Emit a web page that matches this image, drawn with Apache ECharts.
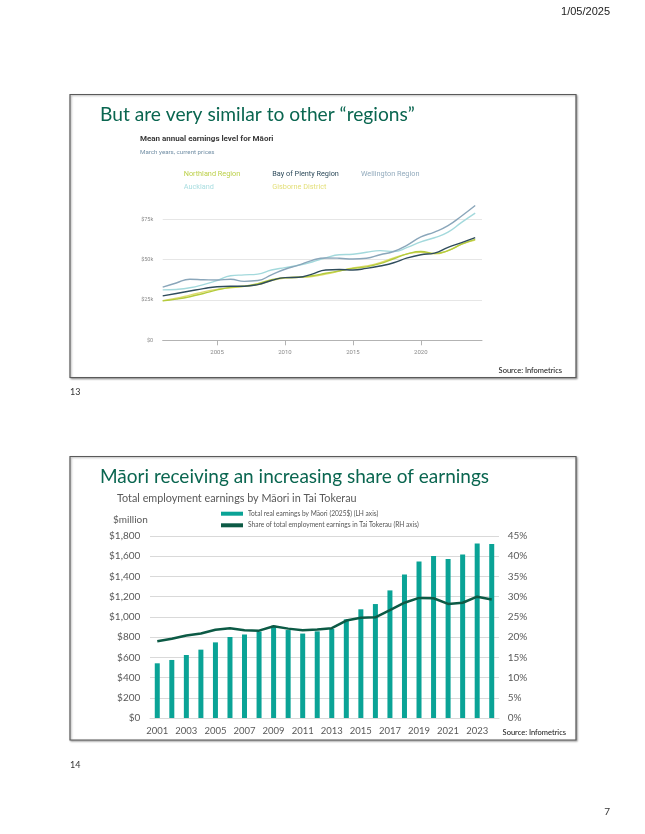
<!DOCTYPE html>
<html><head><meta charset="utf-8">
<script src="https://cdn.jsdelivr.net/npm/echarts@6/dist/echarts.min.js"></script>
<style>html,body{margin:0;padding:0;background:#fff}#c{width:645px;height:834px}</style>
</head><body><div id="c"></div>
<script>
// ---------- Slide 13 data: mean annual earnings ($k) ----------
const years1 = [2001,2002,2003,2004,2005,2006,2007,2008,2009,2010,2011,2012,2013,2014,2015,2016,2017,2018,2019,2020,2021,2022,2023,2024];
const wellington  = [32.9,35.5,37.8,37.5,37.3,37.8,36.5,37.0,40.5,44.0,46.5,49.5,51.0,50.8,50.3,50.8,53.0,55.0,59.0,64.0,67.0,71.0,77.0,83.5];
const auckland    = [31.2,31.5,32.5,34.5,37.0,40.0,40.5,41.0,43.5,45.0,46.5,48.5,51.0,53.0,53.3,54.5,55.5,55.0,57.5,61.0,63.5,67.0,73.0,78.7];
const bayOfPlenty = [27.5,29.0,30.5,32.0,33.2,33.5,33.5,34.5,37.0,38.8,39.0,41.0,43.5,43.8,43.5,44.5,46.0,48.0,51.0,53.0,54.0,57.5,60.5,63.6];
const northland   = [24.4,25.5,27.0,29.0,31.2,32.8,33.5,35.0,37.5,38.8,39.0,40.0,41.5,43.0,44.5,45.5,47.5,50.5,53.5,55.0,53.8,55.5,59.5,62.5];
const gisborne    = [24.6,26.0,28.0,30.0,31.5,32.5,33.5,34.5,37.0,38.5,39.0,39.5,41.0,42.8,44.8,46.0,48.0,51.0,53.5,54.5,53.5,55.5,59.5,62.0];
const xTicks1 = [2005,2010,2015,2020];

// ---------- Slide 14 data ----------
const years2 = ['2001','2002','2003','2004','2005','2006','2007','2008','2009','2010','2011','2012','2013','2014','2015','2016','2017','2018','2019','2020','2021','2022','2023','2024'];
const earnings = [541,574,623,676,748,801,826,855,912,870,835,857,880,976,1075,1127,1262,1418,1549,1602,1572,1618,1727,1721];
const share = [19.0,19.6,20.4,20.9,21.8,22.2,21.7,21.6,22.7,22.1,21.7,21.9,22.2,24.1,24.8,24.9,26.7,28.5,29.7,29.6,28.2,28.5,30.0,29.3];

const barName = 'Total real earnings by Māori (2025$) (LH axis)';
const lineName = 'Share of total employment earnings in Tai Tokerau (RH axis)';

const pair = arr => years1.map((y, i) => [y, arr[i]]);
const green = '#0a6650';

function txt(x, y, text, size, color, opts) {
  opts = opts || {};
  return {
    type: 'text', x: x, y: y, z: 50,
    style: {
      text: text, fill: color, fontSize: size,
      fontFamily: opts.family || 'Lato', fontWeight: opts.weight || 'normal',
      align: opts.align || 'left', verticalAlign: 'middle'
    }
  };
}

function leg1(name, x, y, color) {
  return {
    left: x - 5, top: y - 5, padding: 0, selectedMode: false,
    itemWidth: 0, itemHeight: 0, icon: 'rect',
    data: [name],
    textStyle: { color: color, fontSize: 7.3, fontFamily: 'Roboto', lineHeight: 10 }
  };
}

const chart = echarts.init(document.getElementById('c'), null, { renderer: 'canvas' });
chart.setOption({
  animation: false,
  backgroundColor: '#fff',
  graphic: [
    { type: 'rect', z: 0, shape: { x: 70, y: 94.5, width: 506, height: 283 },
      style: { fill: '#fff', stroke: '#5a5a5a', lineWidth: 1.2, shadowBlur: 2, shadowOffsetX: 1, shadowOffsetY: 1, shadowColor: 'rgba(0,0,0,0.35)' } },
    { type: 'rect', z: 0, shape: { x: 70, y: 456.5, width: 506, height: 283.5 },
      style: { fill: '#fff', stroke: '#5a5a5a', lineWidth: 1.2, shadowBlur: 2, shadowOffsetX: 1, shadowOffsetY: 1, shadowColor: 'rgba(0,0,0,0.35)' } },
    txt(610, 12, '1/05/2025', 11, '#222', { family: 'Liberation Sans', align: 'right' }),
    txt(100, 115, 'But are very similar to other “regions”', 19.2, green),
    txt(140, 139, 'Mean annual earnings level for Māori', 8, '#3a3a3a', { family: 'Roboto', weight: 'bold' }),
    txt(140, 152.5, 'March years, current prices', 6.2, '#7390a6', { family: 'Roboto' }),
    txt(562, 371, 'Source: Infometrics', 7.5, '#111', { align: 'right' }),
    txt(70, 392, '13', 9, '#333'),
    txt(100, 477, 'Māori receiving an increasing share of earnings', 19, green),
    txt(117, 499, 'Total employment earnings by Māori in Tai Tokerau', 10.8, '#595959'),
    txt(113, 520, '$million', 10, '#595959'),
    txt(566, 733, 'Source: Infometrics', 7.5, '#111', { align: 'right' }),
    txt(70, 765, '14', 9, '#333'),
    txt(610, 812, '7', 10, '#333', { align: 'right' })
  ],
  legend: [
    leg1('Northland Region', 183.7, 174, '#bcd04a'),
    leg1('Bay of Plenty Region', 272.3, 174, '#2f4c5c'),
    leg1('Wellington Region', 361, 174, '#93abbd'),
    leg1('Auckland', 183.7, 187, '#a9dde0'),
    leg1('Gisborne District', 272.3, 187, '#e3df78'),
    {
      left: 221, top: 509.7, padding: 0, orient: 'vertical', selectedMode: false,
      itemWidth: 22, itemHeight: 4, itemGap: 3.6, icon: 'rect',
      data: [barName, lineName],
      textStyle: { color: '#555', fontSize: 6.6, fontFamily: 'Lato', lineHeight: 8 }
    }
  ],
  grid: [
    { left: 162.7, top: 178.8, width: 319.3, height: 161.5 },
    { left: 150, top: 536, width: 349, height: 182 }
  ],
  xAxis: [
    {
      type: 'value', gridIndex: 0, min: 2001, max: 2024.5,
      splitLine: { show: false },
      axisLine: { lineStyle: { color: '#b3b3b3', width: 1 } },
      axisTick: { show: true, customValues: xTicks1, length: 5, lineStyle: { color: '#b3b3b3' } },
      axisLabel: { customValues: xTicks1, formatter: v => String(v), fontSize: 6, color: '#8a8a8a', fontFamily: 'Roboto', margin: 9 }
    },
    {
      type: 'category', gridIndex: 1, data: years2,
      axisLine: { lineStyle: { color: '#d9d9d9' } },
      axisTick: { show: false },
      axisLabel: { interval: 1, fontSize: 9.5, color: '#595959', fontFamily: 'Lato', margin: 8 }
    }
  ],
  yAxis: [
    {
      type: 'value', gridIndex: 0, min: 0, max: 100, interval: 25,
      axisLine: { show: false }, axisTick: { show: false },
      splitLine: { showMaxLine: false, lineStyle: { color: '#e6e6e6', width: 1.2 } },
      axisLabel: { showMaxLabel: false, formatter: v => '$' + (v === 0 ? '0' : v + 'k'), fontSize: 5.5, color: '#8a8a8a', fontFamily: 'Roboto', margin: 9.5 }
    },
    {
      type: 'value', gridIndex: 1, min: 0, max: 1800, interval: 200,
      axisLine: { show: false }, axisTick: { show: false },
      splitLine: { lineStyle: { color: '#d9d9d9', width: 1 } },
      axisLabel: { formatter: v => '$' + v.toLocaleString('en-US'), fontSize: 10, color: '#595959', fontFamily: 'Lato', margin: 9.7 }
    },
    {
      type: 'value', gridIndex: 1, position: 'right', min: 0, max: 45, interval: 5,
      axisLine: { show: false }, axisTick: { show: false }, splitLine: { show: false },
      axisLabel: { formatter: '{value}%', fontSize: 10, color: '#595959', fontFamily: 'Lato', margin: 8.7 }
    }
  ],
  series: [
    { name: 'Gisborne District', type: 'line', xAxisIndex: 0, yAxisIndex: 0, data: pair(gisborne), smooth: true, showSymbol: false, lineStyle: { color: '#dedb6e', width: 1.4 }, itemStyle: { color: '#dedb6e' } },
    { name: 'Northland Region', type: 'line', xAxisIndex: 0, yAxisIndex: 0, data: pair(northland), smooth: true, showSymbol: false, lineStyle: { color: '#b3cb3c', width: 1.4 }, itemStyle: { color: '#b3cb3c' } },
    { name: 'Bay of Plenty Region', type: 'line', xAxisIndex: 0, yAxisIndex: 0, data: pair(bayOfPlenty), smooth: true, showSymbol: false, lineStyle: { color: '#2f4c5c', width: 1.4 }, itemStyle: { color: '#2f4c5c' } },
    { name: 'Auckland', type: 'line', xAxisIndex: 0, yAxisIndex: 0, data: pair(auckland), smooth: true, showSymbol: false, lineStyle: { color: '#a3d9dc', width: 1.4 }, itemStyle: { color: '#a3d9dc' } },
    { name: 'Wellington Region', type: 'line', xAxisIndex: 0, yAxisIndex: 0, data: pair(wellington), smooth: true, showSymbol: false, lineStyle: { color: '#8aa6ba', width: 1.4 }, itemStyle: { color: '#8aa6ba' } },
    { name: barName, type: 'bar', xAxisIndex: 1, yAxisIndex: 1, data: earnings, barWidth: 5, itemStyle: { color: '#0aa396' } },
    { name: lineName, type: 'line', xAxisIndex: 1, yAxisIndex: 2, data: share, showSymbol: false, lineStyle: { color: '#0c5a45', width: 2.5 }, itemStyle: { color: '#0c5a45' }, z: 5 }
  ]
});
</script>
</body></html>
